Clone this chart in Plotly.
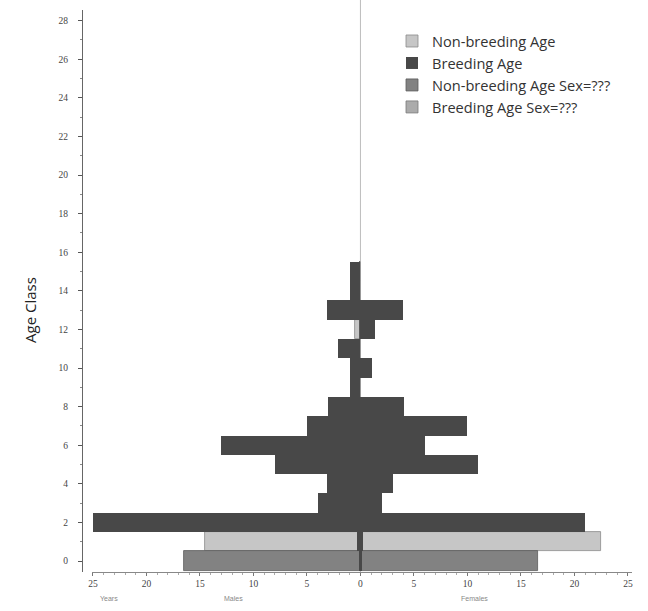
import plotly.graph_objects as go

# ---- data ----
ages = list(range(0, 16))
breeding_male = [0.15, 0.3, 25.0, 4.0, 3.1, 8.0, 13.0, 5.0, 3.05, 1.0, 1.0, 2.1, 0, 3.1, 1.0, 1.0]
breeding_female = [0.15, 0.25, 21.0, 2.0, 3.05, 11.0, 6.0, 10.0, 4.05, 0, 1.1, 0, 1.4, 4.0, 0, 0]
nonbreeding_male = [0, 14.5, 0, 0, 0, 0, 0, 0, 0, 0, 0, 0, 0.5, 0, 0, 0]
nonbreeding_female = [0, 22.5, 0, 0, 0, 0, 0, 0, 0, 0, 0, 0, 0, 0, 0, 0]
nonbreeding_unk_male = [16.5, 0, 0, 0, 0, 0, 0, 0, 0, 0, 0, 0, 0, 0, 0, 0]
nonbreeding_unk_female = [16.6, 0, 0, 0, 0, 0, 0, 0, 0, 0, 0, 0, 0, 0, 0, 0]
x_ticks = [-25, -20, -15, -10, -5, 0, 5, 10, 15, 20, 25]
x_ticktext = ["25", "20", "15", "10", "5", "0", "5", "10", "15", "20", "25"]
y_ticks = list(range(0, 29, 2))

series_names = ["Non-breeding Age", "Breeding Age", "Non-breeding Age Sex=???", "Breeding Age Sex=???"]
colors = ["#c6c6c6", "#484848", "#828282", "#ababab"]
outlines = ["#8a8a8a", "#484848", "#5a5a5a", "#7a7a7a"]
outline_w = [0.8, 0, 0.8, 0.8]

fig = go.Figure()

def add_pair(name, male, female, idx, rank):
    fig.add_trace(go.Bar(
        y=ages, x=[-v for v in male], orientation="h", width=1.0,
        name=name, legendgroup=name, showlegend=True, legendrank=rank,
        marker=dict(color=colors[idx], line=dict(color=outlines[idx], width=outline_w[idx])),
        hoverinfo="skip"))
    fig.add_trace(go.Bar(
        y=ages, x=female, orientation="h", width=1.0,
        name=name, legendgroup=name, showlegend=False,
        marker=dict(color=colors[idx], line=dict(color=outlines[idx], width=outline_w[idx])),
        hoverinfo="skip"))

add_pair(series_names[0], nonbreeding_male, nonbreeding_female, 0, 1)
add_pair(series_names[2], nonbreeding_unk_male, nonbreeding_unk_female, 2, 3)
add_pair(series_names[1], breeding_male, breeding_female, 1, 2)
# empty series (legend only)
fig.add_trace(go.Bar(y=[None], x=[None], orientation="h", name=series_names[3],
                     legendrank=4, marker=dict(color=colors[3], line=dict(color=outlines[3], width=0.8))))

W, H = 648, 611
ml, mr, mt, mb = 82, 16, 10, 39
pw = W - ml - mr
ph = H - mt - mb

tickfont = dict(family="Liberation Serif", size=9.5, color="#444444")

fig.update_layout(
    width=W, height=H,
    margin=dict(l=ml, r=mr, t=mt, b=mb),
    paper_bgcolor="white", plot_bgcolor="white",
    barmode="overlay", bargap=0,
    showlegend=True,
    legend=dict(x=(392 - ml) / pw, y=(572 - 25) / ph, xanchor="left", yanchor="top",
                bgcolor="rgba(0,0,0,0)", font=dict(family="Open Sans", size=14.6, color="#333333"),
                tracegroupgap=0, traceorder="normal"),
    xaxis=dict(domain=[10 / pw, 1], range=[-25.09, 25.38], tickvals=x_ticks, ticktext=x_ticktext,
               showgrid=False, zeroline=False, showline=True, linecolor="#888888", linewidth=1,
               ticks="outside", ticklen=3, tickcolor="#777777", tickfont=tickfont,
               minor=dict(dtick=1, ticks="outside", ticklen=2, tickcolor="#aaaaaa"),
               fixedrange=True),
    yaxis=dict(anchor="free", position=0, range=[-0.57, 28.55], tickvals=y_ticks,
               showgrid=False, zeroline=False, showline=True, linecolor="#666666", linewidth=1,
               ticks="outside", ticklen=4, tickcolor="#555555", tickfont=tickfont,
               ticklabelstandoff=8,
               minor=dict(dtick=1, ticks="outside", ticklen=2, tickcolor="#888888"),
               fixedrange=True),
    shapes=[dict(type="line", xref="x", yref="paper", x0=0, x1=0, y0=0, y1=(572 - 0) / ph,
                 line=dict(color="#bdbdbd", width=1), layer="below")],
    annotations=[
        dict(text="Age Class", textangle=-90, xref="paper", yref="paper",
             x=(18 - ml) / pw, y=(572 - 310) / ph, showarrow=False,
             font=dict(family="Open Sans", size=15, color="#222222")),
        dict(text="Years", xref="paper", yref="paper", x=(98 - ml) / pw, y=-(604 - 572) / ph,
             showarrow=False, font=dict(family="Liberation Sans", size=7, color="#888888")),
        dict(text="Males", xref="paper", yref="paper", x=(222 - ml) / pw, y=-(604 - 572) / ph,
             showarrow=False, font=dict(family="Liberation Sans", size=7, color="#888888")),
        dict(text="Females", xref="paper", yref="paper", x=(490 - ml) / pw, y=-(604 - 572) / ph,
             showarrow=False, font=dict(family="Liberation Sans", size=7, color="#888888")),
    ],
)

fig.write_html("out.html")
